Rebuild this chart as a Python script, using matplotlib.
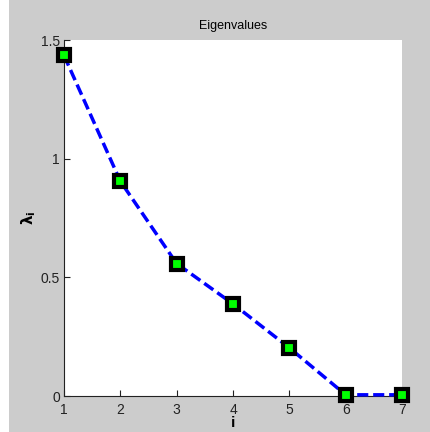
import matplotlib.pyplot as plt
from matplotlib.patches import Rectangle

# eigenvalue index and values
idx = [1, 2, 3, 4, 5, 6, 7]
eigvals = [1.435, 0.905, 0.558, 0.388, 0.203, 0.005, 0.005]
xticks = [1, 2, 3, 4, 5, 6, 7]
yticks = [0, 0.5, 1, 1.5]
ytick_labels = ['0', '0.5', '1', '1.5']

plt.rcParams['font.family'] = ['Liberation Sans', 'DejaVu Sans']

fig = plt.figure(figsize=(4.3, 4.32), dpi=100, facecolor='#cccccc')
# thin white strip on the left edge of the window capture
fig.patches.append(Rectangle((0, 0), 9 / 430, 1, transform=fig.transFigure,
                             facecolor='white', edgecolor='none', zorder=-1))

ax = fig.add_axes([64 / 430, 36 / 432, 338 / 430, 356 / 432])
ax.set_facecolor('white')

ax.plot(idx, eigvals, color='#0000ff', linestyle='--', linewidth=2.5,
        dashes=(3.2, 1.4), marker='s', markersize=9,
        markerfacecolor='#00ff00', markeredgecolor='black',
        markeredgewidth=3, clip_on=False, zorder=3)

ax.set_xlim(1, 7)
ax.set_ylim(0, 1.5)
ax.set_xticks(xticks)
ax.set_yticks(yticks)
ax.set_yticklabels(ytick_labels)

for side in ['top', 'right']:
    ax.spines[side].set_visible(False)
for side in ['left', 'bottom']:
    ax.spines[side].set_color('#222222')
    ax.spines[side].set_linewidth(0.8)

ax.tick_params(direction='in', length=4, width=0.8, labelsize=10,
               labelcolor='#222222', color='#222222')
ax.tick_params(axis='x', pad=5)
ax.tick_params(axis='y', pad=3)

ax.set_title('Eigenvalues', fontsize=9, pad=8)
ax.set_xlabel('i', fontsize=11, fontweight='bold', labelpad=-1)
ax.set_ylabel(r'$\mathbf{\lambda_i}$', fontsize=11, labelpad=2)

fig.savefig('out.png', dpi=100, facecolor=fig.get_facecolor())
